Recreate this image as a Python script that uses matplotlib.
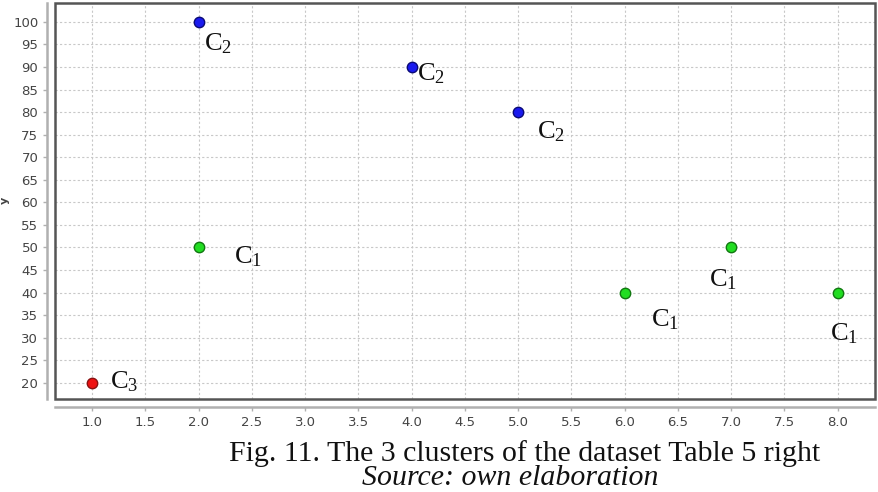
import matplotlib
matplotlib.use("Agg")
import matplotlib.pyplot as plt
from matplotlib.patches import Rectangle

plt.rcParams['mathtext.fontset'] = 'custom'
plt.rcParams['mathtext.rm'] = 'Liberation Serif'
plt.rcParams['mathtext.it'] = 'Liberation Serif:italic'

# data
x_vals = [2, 4, 5, 2, 7, 6, 8, 1]
y_vals = [100, 90, 80, 50, 50, 40, 40, 20]
clusters = [2, 2, 2, 1, 1, 1, 1, 3]
x_ticks = [1.0, 1.5, 2.0, 2.5, 3.0, 3.5, 4.0, 4.5, 5.0, 5.5, 6.0, 6.5, 7.0, 7.5, 8.0]
y_ticks = list(range(20, 101, 5))

# styling per cluster
face = {1: '#22dd22', 2: '#1a1aee', 3: '#ee1111'}
edge = {1: '#117711', 2: '#0a0a77', 3: '#881111'}
# label offsets in pixels (left edge of text, vertical center)
label_off = [(5, -21), (5, -6), (19, -19), (35, -9), (-22, -32), (26, -27), (-8, -41), (18, 1)]

fig = plt.figure(figsize=(8.79, 4.92), dpi=100)
ax = fig.add_axes([55 / 879, 93 / 492, 820 / 879, 396 / 492])

for xv, yv, c in zip(x_vals, y_vals, clusters):
    ax.plot(xv, yv, 'o', ms=7.5, mfc=face[c], mec=edge[c], mew=1.0, zorder=3)

for xv, yv, c, (dx, dy) in zip(x_vals, y_vals, clusters, label_off):
    ax.annotate(r'$\mathrm{C}_{%d}$' % c, (xv, yv), xytext=(dx, dy),
                textcoords='offset pixels', ha='left', va='center',
                fontsize=19, color='#111111', zorder=4)

ax.set_xlim(0.653, 8.35)
ax.set_ylim(16.4, 104.2)
ax.set_xticks(x_ticks)
ax.set_yticks(y_ticks)
ax.set_xticklabels(['%.1f' % t for t in x_ticks])
ax.grid(True, color='#c8c8c8', linestyle=(0, (2, 2)), linewidth=0.8)
ax.set_axisbelow(True)

for s in ['top', 'right']:
    ax.spines[s].set_visible(False)
for s in ['left', 'bottom']:
    ax.spines[s].set_position(('outward', 6))
    ax.spines[s].set_color('#b0b0b0')
    ax.spines[s].set_linewidth(1.8)
ax.tick_params(colors='#b0b0b0', labelcolor='#444444', labelsize=9.5,
               length=3, width=1, pad=3)

# plot frame
ax.add_patch(Rectangle((0, 0), 1, 1, transform=ax.transAxes, fill=False,
                       edgecolor='#555555', linewidth=1.8, clip_on=False, zorder=5))

fig.text(5 / 879, 1 - 200 / 492, 'y', rotation=90, ha='center', va='center',
         fontsize=8, color='#444444', fontweight='bold')

fig.text(525 / 879, 1 - 461 / 492, 'Fig. 11. The 3 clusters of the dataset Table 5 right',
         ha='center', va='baseline', fontsize=21.5, family='Liberation Serif', color='#111111')
fig.text(510 / 879, 1 - 485 / 492, 'Source: own elaboration',
         ha='center', va='baseline', fontsize=21.5, family='Liberation Serif',
         style='italic', color='#111111')

fig.savefig('out.png', dpi=100)
